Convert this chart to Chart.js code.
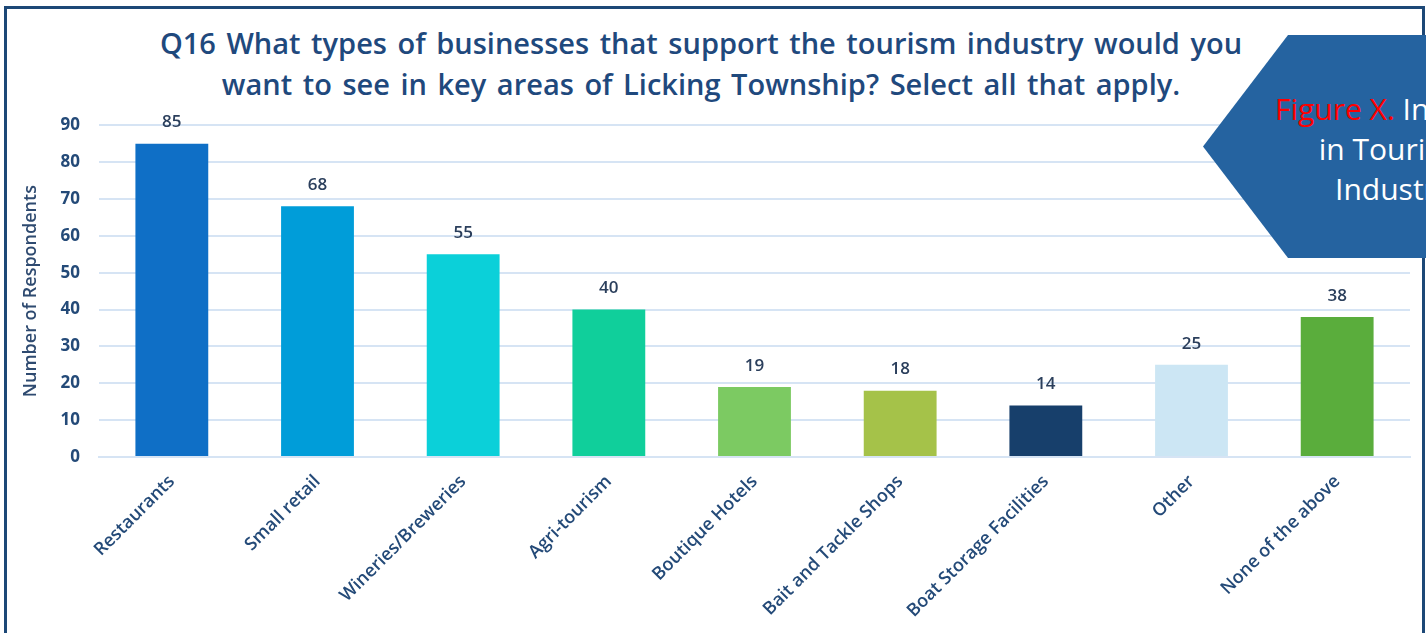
<!DOCTYPE html>
<html>
<head>
  <meta charset="UTF-8">
  <title>Q16 Tourism businesses</title>
  <script src="https://cdn.jsdelivr.net/npm/chart.js"></script>
  <style>
    html, body { margin: 0; padding: 0; background: #fff; overflow: hidden; width: 1426px; height: 633px; }
    #frame { position: absolute; left: 4px; top: 6px; width: 1415px; height: 700px; border: 3px solid #1d4877; border-bottom: none; }
    #title { position: absolute; left: 0; top: 22px; width: 1402px; text-align: center; font-family: "Open Sans", sans-serif; font-weight: 600; font-size: 29px; line-height: 41px; color: #1f497d; word-spacing: 3px; }
    #wrap { position: absolute; left: 8px; top: 96px; width: 1412px; height: 537px; }
    #callout { position: absolute; left: 1203px; top: 35px; width: 380px; height: 223px; background: #2563a0;
      clip-path: polygon(0 50%, 85px 0, 100% 0, 100% 100%, 85px 100%); }
    #callout p { margin: 0; position: absolute; left: 0; right: 0; top: 54px; text-align: center; font-family: "Open Sans", sans-serif; font-size: 30px; line-height: 40px; color: #fff; }
    #callout span { color: #ff0000; }
  </style>
</head>
<body>
  <div id="frame"></div>
  <div id="title">Q16 What types of businesses that support the tourism industry would you<br>want to see in key areas of Licking Township? Select all that apply.</div>
  <div id="wrap"><canvas id="chart"></canvas></div>
  <div id="callout"><p><span>Figure X.</span> Interest<br>in Tourism<br>Industry</p></div>
  <script>
    // datos
    const categories = ["Restaurants", "Small retail", "Wineries/Breweries", "Agri-tourism", "Boutique Hotels",
      "Bait and Tackle Shops", "Boat Storage Facilities", "Other", "None of the above"];
    const respondents = [85, 68, 55, 40, 19, 18, 14, 25, 38];
    const barColors = ["#0f6fc6", "#009dd9", "#0bd0d9", "#10cf9b", "#7cca62", "#a5c249", "#173f6b", "#cce6f4", "#5aad3c"];
    const yTicks = [0, 10, 20, 30, 40, 50, 60, 70, 80, 90];

    // etiquetas de valor encima de cada barra
    const valueLabels = {
      id: "valueLabels",
      afterDatasetsDraw(chart) {
        const ctx = chart.ctx;
        const meta = chart.getDatasetMeta(0);
        ctx.save();
        ctx.font = "600 17px 'Open Sans'";
        ctx.fillStyle = "#2b3f5c";
        ctx.textAlign = "center";
        ctx.textBaseline = "middle";
        meta.data.forEach((bar, i) => {
          ctx.fillText(String(respondents[i]), bar.x, bar.y - 21);
        });
        ctx.restore();
      }
    };

    new Chart(document.getElementById("chart"), {
      type: "bar",
      data: {
        labels: categories,
        datasets: [{
          data: respondents,
          backgroundColor: barColors,
          barPercentage: 0.5,
          categoryPercentage: 1.0
        }]
      },
      options: {
        responsive: true,
        maintainAspectRatio: false,
        animation: false,
        layout: { padding: { top: 20, right: 10, left: 0, bottom: 0 } },
        plugins: { legend: { display: false }, tooltip: { enabled: false } },
        scales: {
          x: {
            grid: { display: false, drawTicks: false },
            border: { display: true, color: "#d6e4f4", width: 2 },
            ticks: {
              maxRotation: 45, minRotation: 45, autoSkip: false, padding: 14,
              color: "#244a78",
              font: { family: "Open Sans", size: 18, weight: "600" }
            },
            afterFit(scale) { scale.height = 176; }
          },
          y: {
            min: 0, max: 90,
            afterBuildTicks(scale) { scale.ticks = yTicks.map(v => ({ value: v })); },
            grid: { color: "#d6e4f4", lineWidth: 2, drawTicks: false },
            border: { display: false },
            ticks: {
              padding: 19,
              color: "#244a78",
              font: { family: "Open Sans", size: 17, weight: "700" }
            },
            title: {
              display: true, text: "Number of Respondents",
              color: "#2e4a70",
              font: { family: "Open Sans", size: 18, weight: "600" },
              padding: { top: 12 }
            },
            afterFit(scale) { scale.width = 91; }
          }
        }
      },
      plugins: [valueLabels]
    });
  </script>
</body>
</html>
